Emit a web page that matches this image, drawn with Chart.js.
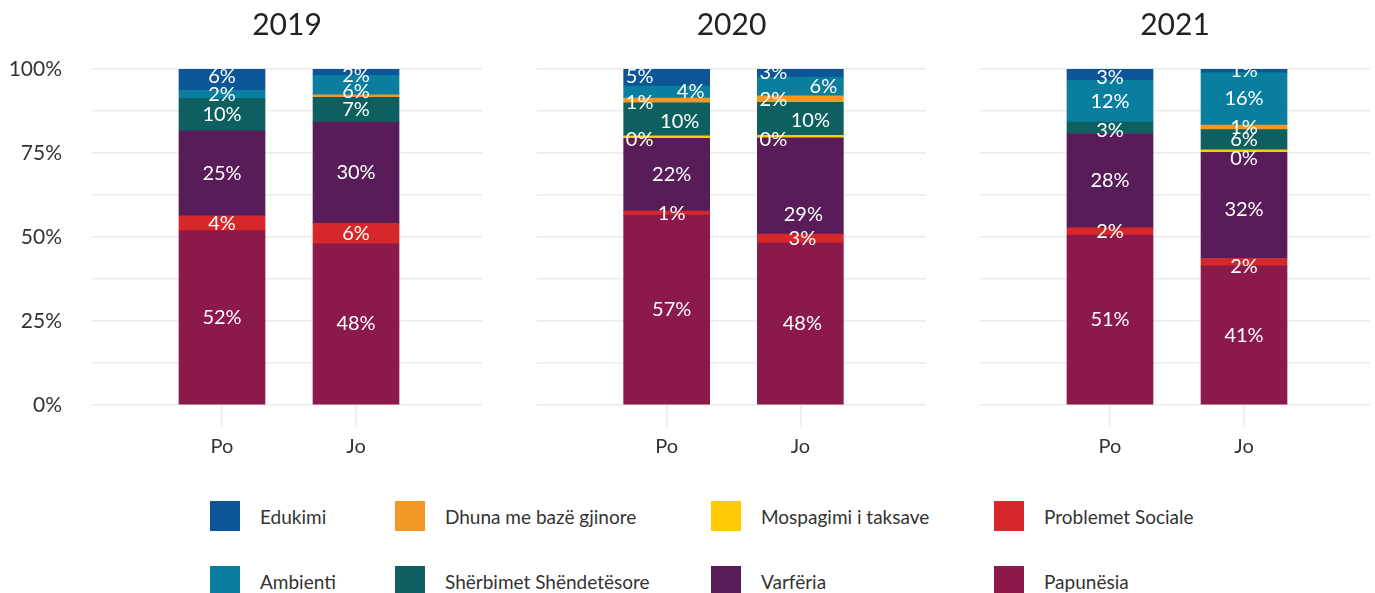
<!DOCTYPE html>
<html>
<head>
<meta charset="utf-8">
<script src="https://cdn.jsdelivr.net/npm/chart.js@4.4.0/dist/chart.umd.min.js"></script>
<style>
  body { margin: 0; background: #fff; width: 1375px; height: 593px; overflow: hidden; position: relative; font-family: Lato, sans-serif; }
  .panel { position: absolute; top: 0; height: 469px; }
  .legend-item { position: absolute; display: flex; align-items: center; font-size: 19px; color: #333; height: 30px; }
  .legend-item .box { width: 30px; height: 30px; margin-right: 20px; }
</style>
</head>
<body>
<div class="panel" style="left:0;width:490px"><canvas id="chart0"></canvas></div>
<div class="panel" style="left:537px;width:400px"><canvas id="chart1"></canvas></div>
<div class="panel" style="left:980px;width:395px"><canvas id="chart2"></canvas></div>
<div id="legend"></div>
<script>
// facets and bars
const years = ['2019', '2020', '2021'];
const categories = ['Po', 'Jo'];
const yTicks = [0, 25, 50, 75, 100];

// shares in %, order: 2019 Po, 2019 Jo, 2020 Po, 2020 Jo, 2021 Po, 2021 Jo
const papunesia        = [51.9, 48.0, 56.5, 48.3, 50.6, 41.4];
const problemetSociale = [4.4, 6.1, 1.2, 2.6, 2.1, 2.2];
const varferia         = [25.3, 30.1, 21.7, 28.6, 28.1, 31.6];
const mospagimi        = [0, 0, 0.4, 0.4, 0, 0.4];
const sherbimet        = [9.6, 7.4, 9.8, 9.8, 3.4, 6.0];
const dhuna            = [0, 0.2, 1.4, 2.0, 0, 1.4];
const ambienti         = [2.4, 5.8, 3.6, 5.5, 12.4, 15.6];
const edukimi          = [6.4, 2.4, 5.4, 2.8, 3.4, 1.4];

// stacked bottom -> top
const series = [
  { label: 'Papunësia', data: papunesia, color: '#8b1a4b' },
  { label: 'Problemet Sociale', data: problemetSociale, color: '#d6282a' },
  { label: 'Varfëria', data: varferia, color: '#581c58' },
  { label: 'Mospagimi i taksave', data: mospagimi, color: '#fecb05' },
  { label: 'Shërbimet Shëndetësore', data: sherbimet, color: '#0d605f' },
  { label: 'Dhuna me bazë gjinore', data: dhuna, color: '#f39726' },
  { label: 'Ambienti', data: ambienti, color: '#0a7e9e' },
  { label: 'Edukimi', data: edukimi, color: '#0c5597' }
];

// small label shifts (the original labels were repelled a bit) : [dx, dy]
const labelNudge = [
  { 'Edukimi|0': [0, -3], 'Edukimi|1': [0, 4], 'Ambienti|1': [0, 7] },
  { 'Edukimi|0': [-27, 0], 'Ambienti|0': [24, 0], 'Dhuna me bazë gjinore|0': [-27, 2],
    'Shërbimet Shëndetësore|0': [13, 2], 'Mospagimi i taksave|0': [-27, 3],
    'Varfëria|0': [5, 0], 'Problemet Sociale|0': [5, 0], 'Papunësia|0': [5, 0],
    'Edukimi|1': [-27, 0], 'Ambienti|1': [23, 0], 'Dhuna me bazë gjinore|1': [-27, 0],
    'Shërbimet Shëndetësore|1': [10, 2], 'Mospagimi i taksave|1': [-27, 3],
    'Varfëria|1': [3, 29], 'Problemet Sociale|1': [2, 0], 'Papunësia|1': [2, 0] },
  { 'Edukimi|0': [0, 3], 'Shërbimet Shëndetësore|0': [0, 3],
    'Mospagimi i taksave|1': [0, 7], 'Varfëria|1': [0, 4], 'Problemet Sociale|1': [0, 4] }
];

const FONT = 'Lato, sans-serif';
const GRID = '#ebebeb';

// draws the % text in the middle of each segment
const barLabels = {
  id: 'barLabels',
  afterDatasetsDraw(chart, args, opts) {
    const ctx = chart.ctx;
    ctx.save();
    ctx.font = '20px ' + FONT;
    ctx.fillStyle = '#ffffff';
    ctx.textAlign = 'center';
    ctx.textBaseline = 'middle';
    chart.data.datasets.forEach((ds, i) => {
      chart.getDatasetMeta(i).data.forEach((bar, j) => {
        const v = ds.data[j].y;
        if (!v || v < 0.3) return;
        const n = opts.nudge[ds.label + '|' + j] || [0, 0];
        ctx.fillText(Math.round(v) + '%', bar.x + n[0], (bar.y + bar.base) / 2 + n[1]);
      });
    });
    ctx.restore();
  }
};

// facet title centred over the plot area (not the whole canvas)
const facetTitle = {
  id: 'facetTitle',
  afterDraw(chart, args, opts) {
    const { ctx, chartArea } = chart;
    ctx.save();
    ctx.font = '30px ' + FONT;
    ctx.fillStyle = '#222';
    ctx.textAlign = 'center';
    ctx.textBaseline = 'middle';
    ctx.fillText(opts.text, (chartArea.left + chartArea.right) / 2, 25);
    ctx.restore();
  }
};

function makeChart(idx) {
  const first = idx === 0;
  const ctx = document.getElementById('chart' + idx).getContext('2d');
  new Chart(ctx, {
    type: 'bar',
    data: {
      datasets: series.map(s => ({
        label: s.label,
        // empty categories are left out so they draw nothing
        data: categories.map((c, k) => ({ x: k + 1, y: s.data[idx * 2 + k] || null })),
        backgroundColor: s.color,
        stack: 'all',
        barThickness: 86,
        minBarLength: 2.5   // keeps the ~0% slivers visible like in the original
      }))
    },
    options: {
      responsive: true,
      maintainAspectRatio: false,
      animation: false,
      layout: { padding: { top: 69, right: [8, 11, 5][idx], bottom: 2 } },
      plugins: {
        legend: { display: false },
        tooltip: { enabled: false },
        facetTitle: { text: years[idx] },
        barLabels: { nudge: labelNudge[idx] }
      },
      scales: {
        x: {
          type: 'linear',
          min: 0.03,
          max: 2.94,
          offset: false,
          afterBuildTicks: s => { s.ticks = categories.map((c, k) => ({ value: k + 1 })); },
          grid: { offset: false, color: GRID, lineWidth: 1.5, tickLength: 22, tickColor: GRID },
          border: { display: false },
          ticks: {
            color: '#333',
            font: { family: FONT, size: 20 },
            padding: 8,
            callback: v => categories[v - 1] || ''
          }
        },
        y: {
          stacked: true,
          min: 0,
          max: 100,
          afterFit: s => { s.width = first ? 92 : 0; },
          grid: { color: GRID, lineWidth: 1.5, drawTicks: false },
          border: { display: false },
          ticks: {
            display: first,
            stepSize: 12.5,
            padding: 30,
            color: '#333',
            font: { family: FONT, size: 21 },
            callback: v => yTicks.includes(v) ? v + '%' : ''
          }
        }
      }
    },
    plugins: [barLabels, facetTitle]
  });
}

years.forEach((y, i) => makeChart(i));

// legend: 4 columns x 2 rows, filled column-wise from the top of the stack
const legendCols = [210, 395, 711, 994];
const legendRows = [501, 566];
const legend = document.getElementById('legend');
series.slice().reverse().forEach((s, i) => {
  const item = document.createElement('div');
  item.className = 'legend-item';
  item.style.left = legendCols[Math.floor(i / 2)] + 'px';
  item.style.top = legendRows[i % 2] + 'px';
  item.innerHTML = '<span class="box" style="background:' + s.color + '"></span><span>' + s.label + '</span>';
  legend.appendChild(item);
});
</script>
</body>
</html>
